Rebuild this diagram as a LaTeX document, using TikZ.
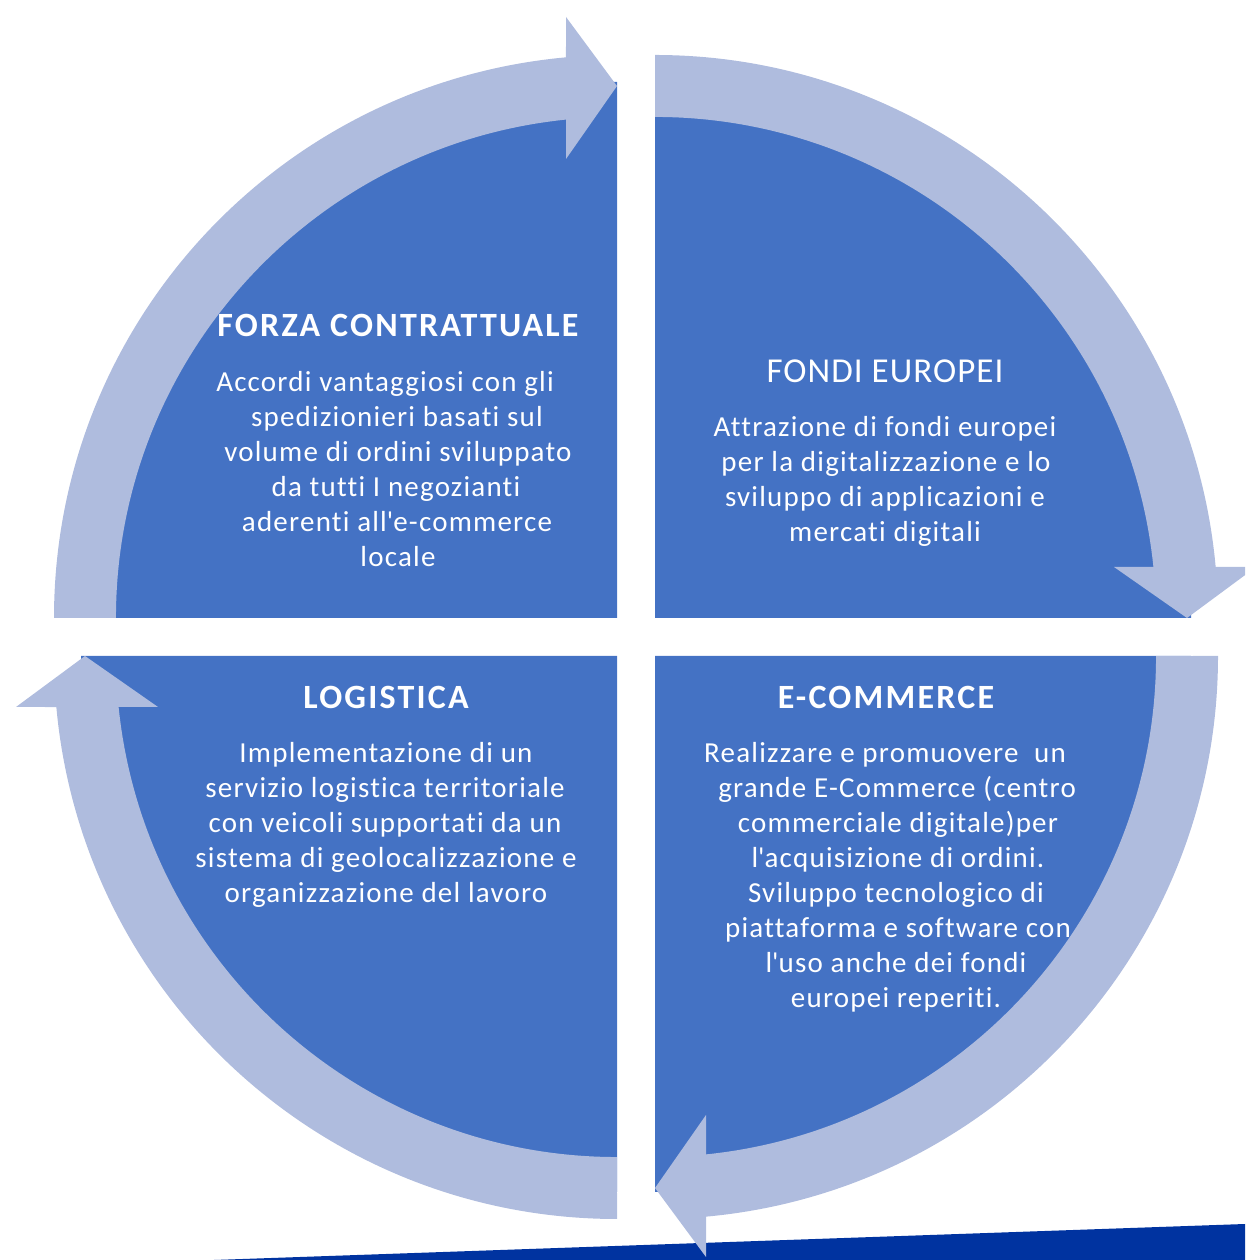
\documentclass[tikz,border=0pt]{standalone}
\usepackage{fontspec}
\setmainfont{Carlito}[Ligatures={NoCommon}]
\newfontfamily\bodyf{Carlito}[Ligatures={NoCommon},LetterSpace=4.2]
\newfontfamily\headf{Carlito}[Ligatures={NoCommon},LetterSpace=6.5]
\newfontfamily\headlf{Carlito}[Ligatures={NoCommon},LetterSpace=3]
\newcommand{\ap}{\textquotesingle}
\definecolor{qblue}{RGB}{68,114,196}
\definecolor{bandc}{RGB}{175,188,222}
\definecolor{stripec}{RGB}{0,51,160}
\begin{document}
\begin{tikzpicture}[x=1pt,y=1pt,
  hd/.style={text=white,font=\headf\fontsize{34}{40}\selectfont\bfseries,anchor=base,inner sep=0pt},
  hdl/.style={text=white,font=\headlf\fontsize{35}{42}\selectfont,anchor=base,inner sep=0pt},
  bd/.style={text=white,font=\bodyf\fontsize{29}{35}\selectfont,anchor=base,inner sep=0pt},
  quarter/.style={fill=qblue},
  band/.style={fill=bandc}]
\useasboundingbox (0,0) rectangle (1245,1260);
\clip (0,0) rectangle (1245,1260);
% bottom stripe
\fill[stripec] (214,0) -- (1245,36) -- (1245,0) -- cycle;
% quarter discs
\foreach \k in {0,1,2,3}{
  \begin{scope}[rotate around={-90*\k:(636,623)}]
    \fill[quarter] (617,642) -- (81,642) arc[start angle=180,end angle=90,radius=536] -- cycle;
  \end{scope}}
% circular arrows
\foreach \k in {0,1,2,3}{
  \begin{scope}[rotate around={-90*\k:(636,623)}]
    \fill[band] (54,642) arc[start angle=180,end angle=95.2,radius=563]
      -- (566,1243) -- (617,1174) -- (566,1101) -- (566,1140.4)
      arc[start angle=95.84,end angle=180,radius=501] -- cycle;
  \end{scope}}
% FORZA CONTRATTUALE
\node[hd] (h1) at (398,923) {FORZA CONTRATTUALE};
\node[bd] (a1) at (385,868) {Accordi vantaggiosi con gli};
\node[bd] (a2) at (397,833) {spedizionieri basati sul};
\node[bd] (a3) at (398,798) {volume di ordini sviluppato};
\node[bd] (a4) at (396,763) {da tutti I negozianti};
\node[bd] (a5) at (397,728) {aderenti all\ap e-commerce};
\node[bd] (a6) at (398,693) {locale};
% FONDI EUROPEI
\node[hdl] (h2) at (885,877) {FONDI EUROPEI};
\node[bd] (b1) at (885,823) {Attrazione di fondi europei};
\node[bd] (b2) at (886,788) {per la digitalizzazione e lo};
\node[bd] (b3) at (885,753) {sviluppo di applicazioni e};
\node[bd] (b4) at (885,718) {mercati digitali};
% LOGISTICA
\node[hd] (h3) at (386,551) {LOGISTICA};
\node[bd] (c1) at (386,497) {Implementazione di un};
\node[bd] (c2) at (385,462) {servizio logistica territoriale};
\node[bd] (c3) at (385,427) {con veicoli supportati da un};
\node[bd] (c4) at (386,392) {sistema di geolocalizzazione e};
\node[bd] (c5) at (386,357) {organizzazione del lavoro};
% E-COMMERCE
\node[hd] (h4) at (886,551) {E-COMMERCE};
\node[bd] (d1) at (885,497) {Realizzare e promuovere\ \ un};
\node[bd] (d2) at (897,462) {grande E-Commerce (centro};
\node[bd] (d3) at (898,427) {commerciale digitale)per};
\node[bd] (d4) at (898,392) {l\ap acquisizione di ordini.};
\node[bd] (d5) at (896,357) {Sviluppo tecnologico di};
\node[bd] (d6) at (898,322) {piattaforma e software con};
\node[bd] (d7) at (896,287) {l\ap uso anche dei fondi};
\node[bd] (d8) at (896,252) {europei reperiti.};
\end{tikzpicture}
\end{document}
